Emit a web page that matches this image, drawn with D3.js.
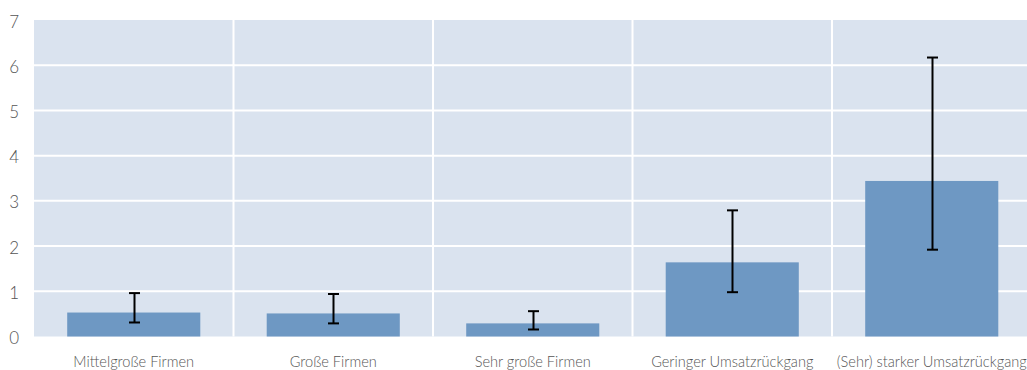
<!DOCTYPE html>
<html><head><meta charset="utf-8">
<script src="https://cdn.jsdelivr.net/npm/d3@7"></script>
<style>
body{margin:0;background:#fff;overflow:hidden}
text{font-family:Lato, "Open Sans", sans-serif;font-weight:300;fill:#555}
</style></head>
<body><svg id="c" width="1027" height="370"></svg>
<script>
const categories = ["Mittelgroße Firmen","Große Firmen","Sehr große Firmen","Geringer Umsatzrückgang","(Sehr) starker Umsatzrückgang"];
const values = [0.53, 0.51, 0.29, 1.64, 3.44];
const errLow = [0.31, 0.29, 0.155, 0.98, 1.92];
const errHigh = [0.96, 0.94, 0.56, 2.79, 6.17];
const yTicks = [0,1,2,3,4,5,6,7];

(function(){
const svg = d3.select("#c");
const pL = 34, pR = 1031.5, pT = 20, pB = 336.5;
const x = d3.scaleBand().domain(categories).range([pL, pR]).padding(0);
const y = d3.scaleLinear().domain([0,7]).range([pB, pT]);

svg.append("rect").attr("x", pL).attr("y", pT).attr("width", pR-pL).attr("height", pB-pT).attr("fill", "#dae3ef");

svg.append("g").selectAll("line").data(yTicks.filter(d=>d>0 && d<7)).join("line")
  .attr("x1", pL).attr("x2", pR).attr("y1", d=>y(d)).attr("y2", d=>y(d))
  .attr("stroke", "#fff").attr("stroke-width", 2);
svg.append("g").selectAll("line").data(categories.slice(1)).join("line")
  .attr("x1", d=>x(d)).attr("x2", d=>x(d)).attr("y1", pT).attr("y2", pB)
  .attr("stroke", "#fff").attr("stroke-width", 2);

const bw = x.bandwidth()*0.667;
svg.append("g").selectAll("rect").data(categories).join("rect")
  .attr("x", d=>x(d)+x.bandwidth()/2-bw/2).attr("width", bw)
  .attr("y", (d,i)=>y(values[i])).attr("height", (d,i)=>y(0)-y(values[i]))
  .attr("fill", "#6e98c3");

const eg = svg.append("g").attr("stroke", "#000").attr("stroke-width", 2);
categories.forEach((c,i)=>{
  const cx = Math.round(x(c)+x.bandwidth()/2)+0.5;
  eg.append("line").attr("x1",cx).attr("x2",cx).attr("y1",y(errLow[i])).attr("y2",y(errHigh[i]));
  eg.append("line").attr("x1",cx-5.5).attr("x2",cx+5.5).attr("y1",y(errLow[i])).attr("y2",y(errLow[i]));
  eg.append("line").attr("x1",cx-5.5).attr("x2",cx+5.5).attr("y1",y(errHigh[i])).attr("y2",y(errHigh[i]));
});

const ya = svg.append("g").attr("transform", `translate(${pL},0)`)
  .call(d3.axisLeft(y).tickValues(yTicks).tickFormat(d3.format("d")).tickSize(0).tickPadding(15));
ya.select(".domain").remove();
ya.selectAll("text").style("font-size","17px").style("font-family","Lato, sans-serif").attr("fill","#555").attr("dy","0.42em");

const xa = svg.append("g").attr("transform", `translate(0,${pB})`)
  .call(d3.axisBottom(x).tickSize(0).tickPadding(20));
xa.select(".domain").remove();
xa.selectAll("text").style("font-size","14.6px").style("font-family","Lato, sans-serif").attr("fill","#444");
})();
</script></body></html>
